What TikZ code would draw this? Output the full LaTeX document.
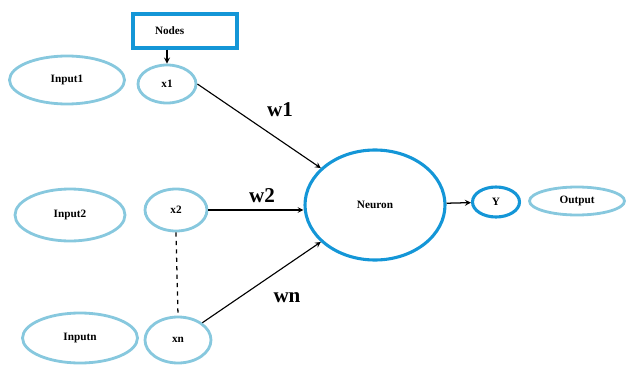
\documentclass[tikz,border=0pt]{standalone}
\usepackage{fontspec}
\setmainfont{Liberation Serif}
\usetikzlibrary{shapes.geometric}
\definecolor{darkcyan}{RGB}{20,150,215}
\definecolor{lightcyan}{RGB}{135,200,222}

\begin{document}
\begin{tikzpicture}[>=stealth,
    inball/.style={ellipse,draw=lightcyan,line width=2pt,inner sep=0pt,font=\bfseries\fontsize{8}{9}\selectfont},
    outball/.style={ellipse,draw=darkcyan,line width=2.2pt,inner sep=0pt,font=\bfseries\fontsize{8}{9}\selectfont},
    weight/.style={font=\bfseries\fontsize{15}{17}\selectfont}]
                \useasboundingbox (0,0) rectangle (15.725,9.225);
                \node[outball,minimum width=3.5cm,minimum height=2.75cm] (A) at (9.375,4.1) {Neuron};
                \node[inball,minimum width=2.875cm,minimum height=1.2cm] (B) at (1.675,7.225) {Input1};
                \node[inball,minimum width=1.45cm,minimum height=0.95cm] (C) at (4.175,7.125) {x1};
                \node[inball,minimum width=2.75cm,minimum height=1.3cm] (D) at (1.75,3.85) {Input2};
                \node[inball,minimum width=1.55cm,minimum height=1.05cm] (E) at (4.4,3.975) {x2};
                \node[inball,minimum width=2.875cm,minimum height=1.25cm] (F) at (2.0,0.775) {Inputn};
                \node[inball,minimum width=1.65cm,minimum height=1.15cm] (G) at (4.45,0.725) {xn};
                \node[outball,minimum width=1.175cm,minimum height=0.75cm] (H) at (12.4,4.175) {Y};
                \node[inball,minimum width=2.375cm,minimum height=0.7cm] (I) at (14.425,4.2) {Output};
                \node[draw=darkcyan,line width=2.2pt,rectangle,minimum height=0.85cm,text width=1.5cm,align=left,inner xsep=0.55cm,font=\bfseries\fontsize{8}{9}\selectfont] (J) at (4.625,8.45) {Nodes};
                % weights
                \node[weight] (K) at (7.0,6.475) {w1};
                \node[weight] (L) at (6.55,4.325) {w2};
                \node[weight] (M) at (7.175,1.775) {wn};
                \draw [->,line width=0.9pt] (J.south -| C.north) -- (C.north);
                \draw [->,line width=0.8pt] (C.east) -- (A);
                \draw [->,line width=0.8pt] (E.east) -- (E.east -| A.west);
                \draw [->,line width=0.8pt] (G.north east) -- (A);
                \draw [dashed,line width=0.9pt] (E.south) -- (G.north);
                \draw [->,line width=0.9pt] (A) -- (H);
            \end{tikzpicture}
\end{document}
